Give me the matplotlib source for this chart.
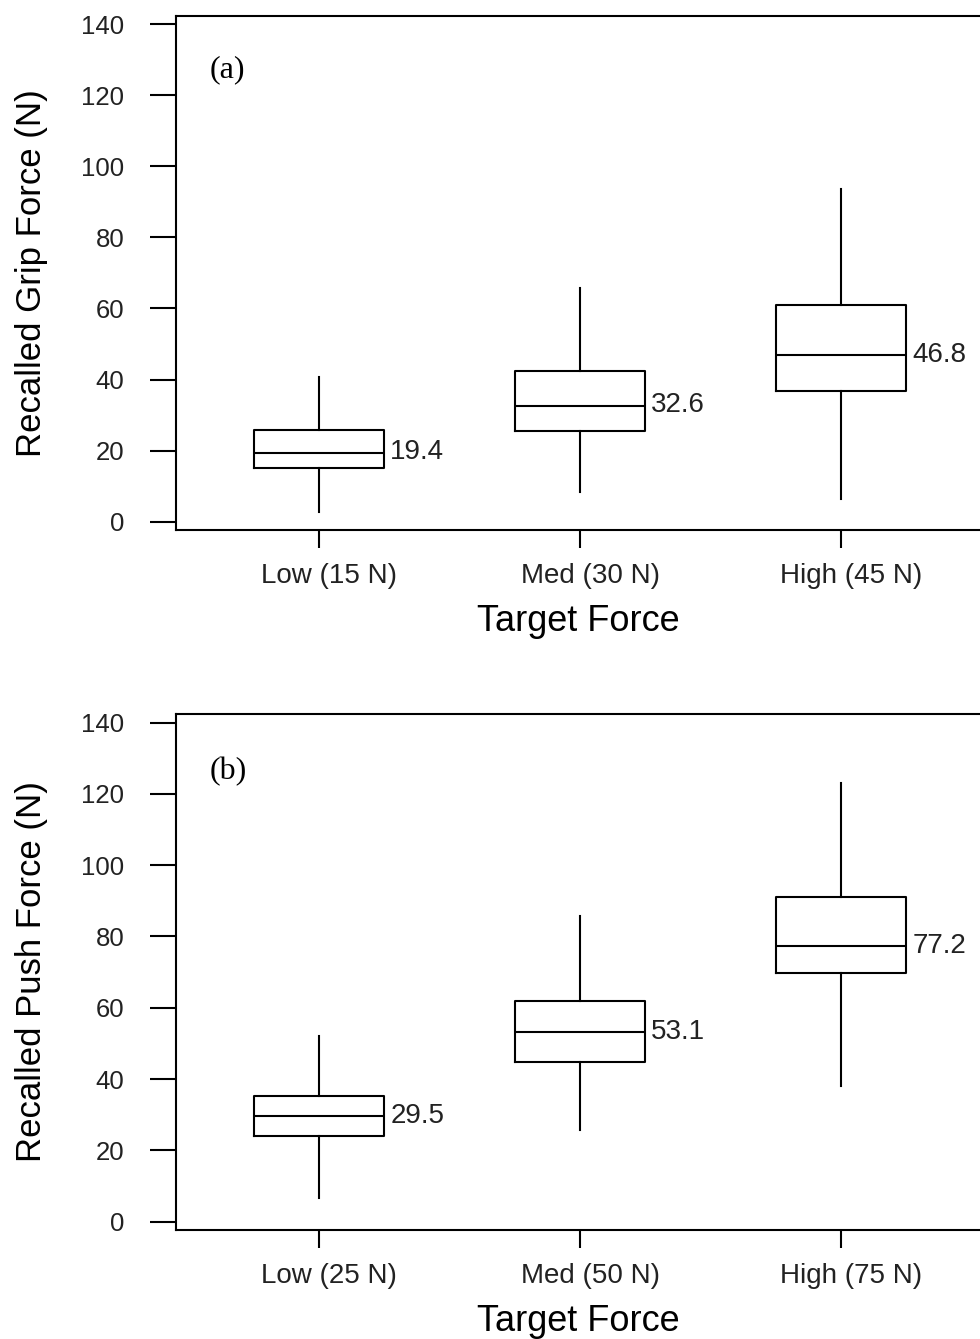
import matplotlib
matplotlib.use("Agg")
import matplotlib.pyplot as plt
from matplotlib.transforms import ScaledTranslation

# ---- data ----
categories_grip = ["Low (15 N)", "Med (30 N)", "High (45 N)"]
categories_push = ["Low (25 N)", "Med (50 N)", "High (75 N)"]

grip_whislo = [2.8, 8.3, 6.3]
grip_q1 = [15.2, 25.6, 36.8]
grip_med = [19.4, 32.6, 46.8]
grip_q3 = [25.7, 42.3, 61.0]
grip_whishi = [40.6, 65.7, 93.5]
grip_labels = ["19.4", "32.6", "46.8"]

push_whislo = [6.6, 25.6, 38.1]
push_q1 = [23.9, 44.8, 69.7]
push_med = [29.5, 53.1, 77.2]
push_q3 = [35.3, 62.0, 91.2]
push_whishi = [52.2, 85.6, 123.1]
push_labels = ["29.5", "53.1", "77.2"]

yticks = [0, 20, 40, 60, 80, 100, 120, 140]

plt.rcParams['font.family'] = ['Liberation Sans', 'DejaVu Sans']

W, H = 980, 1339
fig = plt.figure(figsize=(W / 100, H / 100), dpi=100)

LW = 1.5
TXT = '#222222'


def panel(top_px, bot_px, cats, wlo, q1, med, q3, whi, labels, ylabel, tag, tag_y):
    left_px, right_px = 176, 984
    ax = fig.add_axes([left_px / W, 1 - bot_px / H,
                       (right_px - left_px) / W, (bot_px - top_px) / H])
    stats = []
    for i in range(len(cats)):
        stats.append(dict(whislo=wlo[i], q1=q1[i], med=med[i], q3=q3[i],
                          whishi=whi[i], fliers=[]))
    pos = [1, 2, 3]
    ax.bxp(stats, positions=pos, widths=0.5, showcaps=False, showfliers=False,
           boxprops=dict(color='black', linewidth=LW),
           whiskerprops=dict(color='black', linewidth=LW),
           medianprops=dict(color='black', linewidth=LW))
    for p, m, lab in zip(pos, med, labels):
        ax.annotate(lab, xy=(p + 0.25, m), xytext=(4.3, -4.8),
                    textcoords='offset points', ha='left', va='baseline',
                    fontsize=20, color=TXT)
    ax.set_xlim(0.452, 3.548)
    ax.set_ylim(-2.35, 142.4)
    ax.set_yticks(yticks)
    ax.set_yticklabels([str(t) for t in yticks])
    ax.set_xticks(pos)
    ax.set_xticklabels(cats)
    ax.tick_params(axis='y', direction='out', length=18.7, width=LW,
                   pad=18.5, labelsize=18.5, labelcolor=TXT, right=False)
    ax.tick_params(axis='x', direction='out', length=13, width=LW,
                   pad=11, labelsize=20, labelcolor=TXT, top=False)
    shift = ScaledTranslation(10 / 100, 0, fig.dpi_scale_trans)
    for lbl in ax.get_xticklabels():
        lbl.set_transform(lbl.get_transform() + shift)
    for s in ['left', 'top', 'bottom']:
        ax.spines[s].set_linewidth(LW)
        ax.spines[s].set_color('black')
    ax.spines['right'].set_visible(False)
    ax.text(0.041, tag_y, tag, transform=ax.transAxes, ha='left', va='baseline',
            fontsize=23, family=['Liberation Serif', 'DejaVu Serif'])
    ycen = (top_px + bot_px) / 2
    fig.text(32 / W, 1 - ycen / H, ylabel, rotation=90, ha='center', va='center',
             fontsize=25, color='black')
    fig.text(578 / W, 1 - (bot_px + 101) / H, "Target Force", ha='center',
             va='baseline', fontsize=26, color='black')
    return ax


panel(15.7, 530, categories_grip, grip_whislo, grip_q1, grip_med, grip_q3,
      grip_whishi, grip_labels, "Recalled Grip Force (N)", "(a)", 0.881)
panel(714, 1230, categories_push, push_whislo, push_q1, push_med, push_q3,
      push_whishi, push_labels, "Recalled Push Force (N)", "(b)", 0.874)

fig.savefig("out.png", dpi=100)
